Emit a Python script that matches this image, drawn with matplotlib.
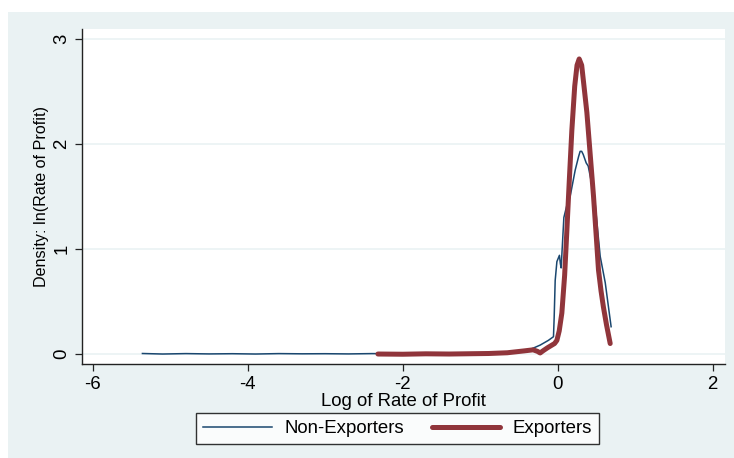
import numpy as np
import matplotlib
matplotlib.use("Agg")
from matplotlib import pyplot as plt
from matplotlib.patches import Rectangle

plt.rcParams['font.family'] = ['Liberation Sans', 'DejaVu Sans']
plt.rcParams['axes.unicode_minus'] = False

# kernel density of log rate of profit, non-exporting firms
non_exp_x = [-5.36, -5.1, -4.8, -4.5, -4.2, -3.9, -3.6, -3.3, -3.0, -2.7, -2.4, -2.1,
             -1.8, -1.5, -1.2, -0.9, -0.7, -0.48, -0.35, -0.226, -0.12, -0.054, -0.045,
             -0.032, -0.01, 0.023, 0.035, 0.045, 0.08, 0.12, 0.161, 0.226, 0.27, 0.29,
             0.31, 0.33, 0.368, 0.394, 0.44, 0.484, 0.52, 0.549, 0.614, 0.65, 0.69]
non_exp_y = [0.005, 0.0, 0.004, 0.001, 0.003, 0.0, 0.004, 0.002, 0.003, 0.001, 0.004, 0.003,
             0.002, 0.004, 0.003, 0.006, 0.01, 0.02, 0.045, 0.085, 0.13, 0.165, 0.35,
             0.7, 0.88, 0.94, 0.86, 0.82, 1.3, 1.42, 1.5, 1.75, 1.88, 1.93,
             1.93, 1.9, 1.82, 1.79, 1.62, 1.43, 1.15, 0.93, 0.68, 0.48, 0.26]

# kernel density of log rate of profit, exporting firms
exp_x = [-2.32, -2.0, -1.7, -1.4, -1.1, -0.89, -0.65, -0.43, -0.317, -0.26, -0.226, -0.19,
         -0.13, -0.04, -0.01, 0.02, 0.054, 0.09, 0.119, 0.15, 0.183, 0.22, 0.25, 0.278,
         0.31, 0.34, 0.377, 0.42, 0.463, 0.5, 0.527, 0.56, 0.59, 0.63, 0.678]
exp_y = [0.0, -0.002, 0.002, 0.0, 0.003, 0.005, 0.012, 0.03, 0.04, 0.025, 0.01, 0.03,
         0.06, 0.10, 0.13, 0.22, 0.39, 0.75, 1.18, 1.65, 2.13, 2.55, 2.75, 2.81,
         2.75, 2.55, 2.3, 1.9, 1.5, 1.1, 0.8, 0.6, 0.45, 0.28, 0.10]

bg = '#eaf2f3'
navy = '#1a476f'
maroon = '#90353b'
fs = 13.4

fig = plt.figure(figsize=(7.34, 4.58), dpi=100)
region = Rectangle((8 / 734, 0), 726 / 734, 446 / 458, transform=fig.transFigure,
                   facecolor=bg, edgecolor='none', zorder=-10)
fig.add_artist(region)

ax = fig.add_axes([82 / 734, 94 / 458, 643 / 734, 335 / 458])
ax.set_facecolor('white')

ax.plot(non_exp_x, non_exp_y, color=navy, lw=1.1, label='Non-Exporters', zorder=3)
ax.plot(exp_x, exp_y, color=maroon, lw=3.6, label='Exporters', zorder=4,
        solid_capstyle='round', solid_joinstyle='round')

ax.set_xlim(-6.14, 2.16)
ax.set_ylim(-0.095, 3.095)
ax.set_xticks([-6, -4, -2, 0, 2])
ax.set_yticks([0, 1, 2, 3])
ax.grid(axis='y', color=bg, lw=1.2)
ax.set_axisbelow(True)

for s in ['top', 'right']:
    ax.spines[s].set_visible(False)
for s in ['left', 'bottom']:
    ax.spines[s].set_color('#222222')
    ax.spines[s].set_linewidth(1.0)

ax.tick_params(axis='both', direction='out', length=5, width=0.9, labelsize=fs,
               color='#222222')
for lab in ax.get_yticklabels():
    lab.set_rotation(90)
    lab.set_va('center')

ax.set_xlabel('Log of Rate of Profit', fontsize=fs, labelpad=0)
ax.set_ylabel('Density: ln(Rate of Profit)', fontsize=11.6, labelpad=3)

leg = fig.legend(loc='center', bbox_to_anchor=(397.5 / 734, 1 - 428.5 / 458), ncol=2,
                 fontsize=fs, frameon=True, fancybox=False, handlelength=3.7,
                 handletextpad=0.65, columnspacing=1.5, borderpad=0.4)
leg.get_frame().set_edgecolor('black')
leg.get_frame().set_linewidth(1.0)
leg.get_frame().set_facecolor('white')

fig.savefig('out.png', dpi=100, facecolor='white')
